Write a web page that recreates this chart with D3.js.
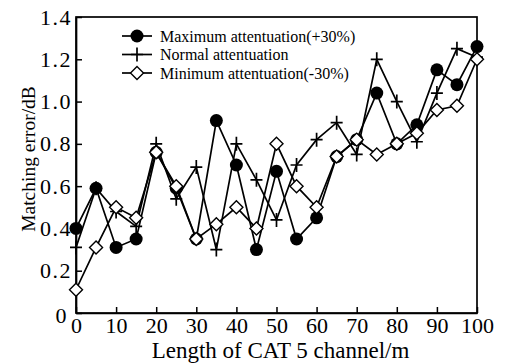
<!DOCTYPE html>
<html>
<head>
<meta charset="utf-8">
<title>Matching error vs CAT 5 length</title>
<script src="https://cdnjs.cloudflare.com/ajax/libs/d3/7.8.5/d3.min.js"></script>
<style>
  body { margin: 0; background: #fff; }
  svg text { font-family: "Liberation Serif", "DejaVu Serif", serif; fill: #000; }
</style>
</head>
<body>
<svg id="chart" width="506" height="363"></svg>
<script>
// lengths (m)
const lengths = [0, 5, 10, 15, 20, 25, 30, 35, 40, 45, 50, 55, 60, 65, 70, 75, 80, 85, 90, 95, 100]

// matching error, dB
const maxAtten = [0.40, 0.59, 0.31, 0.35, 0.76, 0.59, 0.35, 0.91, 0.70, 0.30, 0.67, 0.35, 0.45, 0.74, 0.82, 1.04, 0.80, 0.89, 1.15, 1.08, 1.26]
const normAtten = [0.31, 0.59, 0.48, 0.41, 0.80, 0.54, 0.69, 0.30, 0.80, 0.63, 0.44, 0.70, 0.82, 0.90, 0.75, 1.20, 1.00, 0.81, 1.04, 1.25, 1.21]
const minAtten = [0.11, 0.31, 0.50, 0.45, 0.76, 0.60, 0.35, 0.42, 0.50, 0.40, 0.80, 0.60, 0.50, 0.74, 0.82, 0.75, 0.80, 0.85, 0.96, 0.98, 1.20]

const seriesNames = ['Maximum attentuation(+30%)', 'Normal attentuation', 'Minimum attentuation(-30%)']
const xTicks = [0, 10, 20, 30, 40, 50, 60, 70, 80, 90, 100]
const yTicks = [0, 0.2, 0.4, 0.6, 0.8, 1.0, 1.2, 1.4]

const serif = '"Liberation Serif", "DejaVu Serif", serif'
const svg = d3.select('#chart')
const plotL = 76, plotR = 477, plotT = 17, plotB = 313

const x = d3.scaleLinear().domain([0, 100]).range([plotL, plotR])
const y = d3.scaleLinear().domain([0, 1.4]).range([plotB, plotT])

// frame
svg.append('rect')
  .attr('x', plotL).attr('y', plotT)
  .attr('width', plotR - plotL).attr('height', plotB - plotT)
  .attr('fill', 'none').attr('stroke', '#000').attr('stroke-width', 1.7)

// axes, ticks pointing inward
const xAxis = svg.append('g')
  .attr('transform', `translate(0,${plotB})`)
  .call(d3.axisBottom(x).tickValues(xTicks).tickSizeInner(-6).tickSizeOuter(0).tickPadding(4))
xAxis.select('.domain').attr('stroke-width', 1.7)
xAxis.selectAll('.tick line').attr('stroke-width', 1.5)

const yAxis = svg.append('g')
  .attr('transform', `translate(${plotL},0)`)
  .call(d3.axisLeft(y).tickValues(yTicks).tickSizeInner(-6).tickSizeOuter(0).tickPadding(4)
    .tickFormat(d => d === 0 ? '0' : d3.format('.1f')(d)))
yAxis.select('.domain').attr('stroke-width', 1.7)
yAxis.selectAll('.tick line').attr('stroke-width', 1.5)

svg.selectAll('.tick text')
  .style('font-family', serif)
  .style('font-size', '22px')
yAxis.selectAll('.tick text').style('letter-spacing', '1.5px')

// the y "0" sits a bit low and left, as in the original
yAxis.selectAll('.tick').filter(d => d === 0).select('text').attr('dy', '0.42em').attr('x', -8)

// axis titles
svg.append('text')
  .attr('x', (plotL + plotR) / 2 + 4).attr('y', 358)
  .attr('text-anchor', 'middle')
  .style('font-family', serif).style('font-size', '23px')
  .text('Length of CAT 5 channel/m')

svg.append('text')
  .attr('transform', `translate(35,${(plotT + plotB) / 2 - 6}) rotate(-90)`)
  .attr('text-anchor', 'middle')
  .style('font-family', serif).style('font-size', '19.5px')
  .text('Matching error/dB')

// markers
function drawMarker(g, type, cx, cy) {
  if (type === 'circle') {
    g.append('circle').attr('cx', cx).attr('cy', cy).attr('r', 6.5).attr('fill', '#000')
  } else if (type === 'plus') {
    g.append('path')
      .attr('d', `M${cx - 6},${cy}H${cx + 6}M${cx},${cy - 7}V${cy + 7}`)
      .attr('stroke', '#000').attr('stroke-width', 1.7).attr('fill', 'none')
  } else {
    const s = 6.5
    g.append('path')
      .attr('d', `M${cx},${cy - s}L${cx + s},${cy}L${cx},${cy + s}L${cx - s},${cy}Z`)
      .attr('stroke', '#000').attr('stroke-width', 1.4).attr('fill', '#fff')
  }
}

const series = [
  { name: seriesNames[0], values: maxAtten, marker: 'circle' },
  { name: seriesNames[1], values: normAtten, marker: 'plus' },
  { name: seriesNames[2], values: minAtten, marker: 'diamond' }
]

const line = d3.line().x((d, i) => x(lengths[i])).y(d => y(d))

series.forEach(s => {
  const g = svg.append('g')
  g.append('path').datum(s.values)
    .attr('d', line)
    .attr('fill', 'none').attr('stroke', '#000').attr('stroke-width', 1.7)
  s.values.forEach((v, i) => drawMarker(g, s.marker, x(lengths[i]), y(v)))
})

// legend
const legend = svg.append('g')
series.forEach((s, i) => {
  const ly = 36 + i * 18.5
  legend.append('line')
    .attr('x1', 122).attr('x2', 152).attr('y1', ly).attr('y2', ly)
    .attr('stroke', '#000').attr('stroke-width', 1.7)
  drawMarker(legend, s.marker, 137, ly)
  legend.append('text')
    .attr('x', 160).attr('y', ly).attr('dy', '0.35em')
    .style('font-family', serif).style('font-size', '16px')
    .text(s.name)
})
</script>
</body>
</html>
